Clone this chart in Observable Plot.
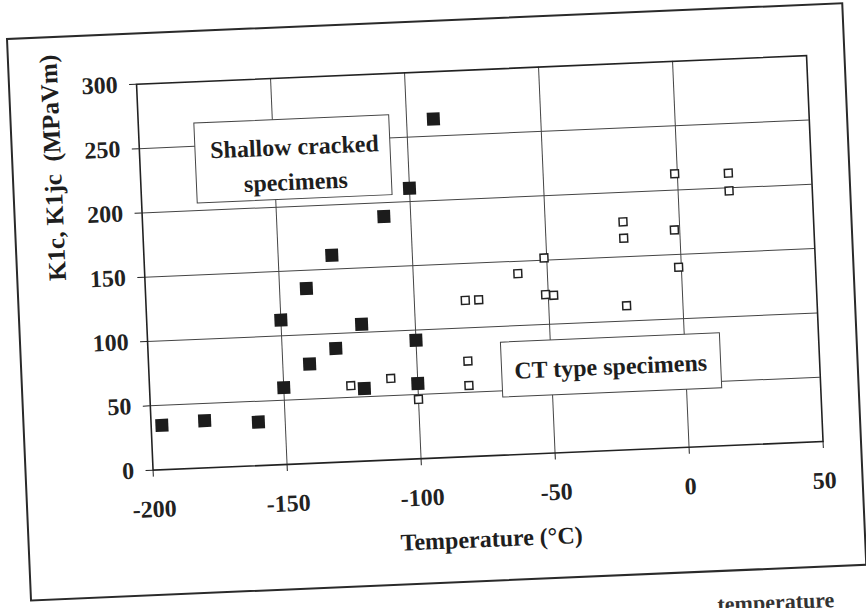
<!DOCTYPE html>
<html>
<head>
<meta charset="utf-8">
<script src="https://cdn.jsdelivr.net/npm/d3@7"></script>
<script src="https://cdn.jsdelivr.net/npm/@observablehq/plot@0.6"></script>
<style>
  html, body { margin: 0; padding: 0; background: #fff; width: 866px; height: 608px; overflow: hidden; }
  #frame {
    position: absolute; left: 6.3px; top: 38px;
    width: 834px; height: 560px;
    border: 2px solid #2a2a2a;
    transform-origin: 1px 1px;
    transform: rotate(-2.45deg);
    background: #fff;
  }
  #caption {
    position: absolute; left: 717px; top: 594px;
    font: bold 22px "Liberation Serif", serif; color: #333; line-height: 1;
    transform-origin: 0 0; transform: rotate(-2.45deg);
    white-space: nowrap;
  }
</style>
</head>
<body>
<div id="frame"></div>
<div id="caption">temperature</div>
<script>
// Data
const filledX = [-196, -180, -160, -150, -150, -140, -140, -130, -130, -120, -120, -110, -100, -100, -100, -90];
const filledY = [34.5, 36.7, 33.8, 59.7, 112.2, 77.2, 135.9, 88.4, 160.8, 56.4, 106.3, 189.2, 58.5, 92.1, 210.3, 263.2];
const openX = [-125, -110, -100, -81, -81, -81, -76, -61, -51, -51, -48, -21, -21, -21, -1, -2, -1, 19, 19];
const openY = [59.0, 63.3, 46.1, 74.2, 55.2, 121.4, 121.4, 140.4, 151.7, 123.2, 122.4, 177.1, 164.4, 111.9, 212.7, 169.1, 140.0, 211.4, 197.6];
const xTicks = [-200, -150, -100, -50, 0, 50];
const yTicks = [0, 50, 100, 150, 200, 250, 300];
const xGrid = [-150, -100, -50, 0];
const yGrid = [50, 100, 150, 200, 250];
const noteLabels = ["Shallow cracked\nspecimens", "CT type specimens"];
const noteX1 = [-179.1, -68.4];
const noteX2 = [-106.4, 13.3];
const noteY1 = [205.5, 44.7];
const noteY2 = [267.6, 87.4];
const noteTX = [-142.2, -27.9];
const noteTY = [235.2, 67.7];
const xTitle = "Temperature (°C)";
const yTitle = "K1c, K1jc  (MPaVm)";

const filled = filledX.map((x, i) => ({x, y: filledY[i]}));
const open = openX.map((x, i) => ({x, y: openY[i]}));
const notes = noteLabels.map((label, i) => ({label, x1: noteX1[i], x2: noteX2[i], y1: noteY1[i], y2: noteY2[i], tx: noteTX[i], ty: noteTY[i]}));

const chart = Plot.plot({
  width: 834,
  height: 560,
  marginLeft: 126,
  marginTop: 49.3,
  marginRight: 37.4,
  marginBottom: 124.5,
  style: {fontFamily: "'Liberation Serif', serif", fontSize: "24px", fontWeight: "bold", color: "#222", background: "transparent"},
  x: {domain: [-200, 50], ticks: xTicks, tickSize: 7, tickPadding: 23, tickFormat: d => String(d), label: null},
  y: {domain: [0, 300], ticks: yTicks, tickSize: 7, tickPadding: 12, tickFormat: d => String(d), label: null},
  marks: [
    Plot.ruleX(xGrid, {stroke: "#444", strokeWidth: 1}),
    Plot.ruleY(yGrid, {stroke: "#444", strokeWidth: 1}),
    Plot.rect(notes, {x1: "x1", x2: "x2", y1: "y1", y2: "y2", fill: "#fff", stroke: "#444", strokeWidth: 1}),
    Plot.text(notes, {x: "tx", y: "ty", text: "label", fontSize: 24, fontWeight: "bold", lineHeight: 1.46, fill: "#1e1e1e"}),
    Plot.dot(open, {x: "x", y: "y", symbol: "square", r: 4.4, fill: "#fff", stroke: "#222", strokeWidth: 1.5}),
    Plot.dot(filled, {x: "x", y: "y", symbol: "square", r: 7.3, fill: "#1c1c1c", stroke: "none"}),
    Plot.frame({stroke: "#222", strokeWidth: 1.6}),
    Plot.text([xTitle], {text: d => d, frameAnchor: "bottom", dy: 91, fontSize: 24, fontWeight: "bold", fill: "#1e1e1e"}),
    Plot.text([yTitle], {text: d => d, frameAnchor: "left", dx: -87, rotate: -90, fontSize: 25, fontWeight: "bold", fill: "#1e1e1e"})
  ]
});
document.getElementById("frame").appendChild(chart);
</script>
</body>
</html>
